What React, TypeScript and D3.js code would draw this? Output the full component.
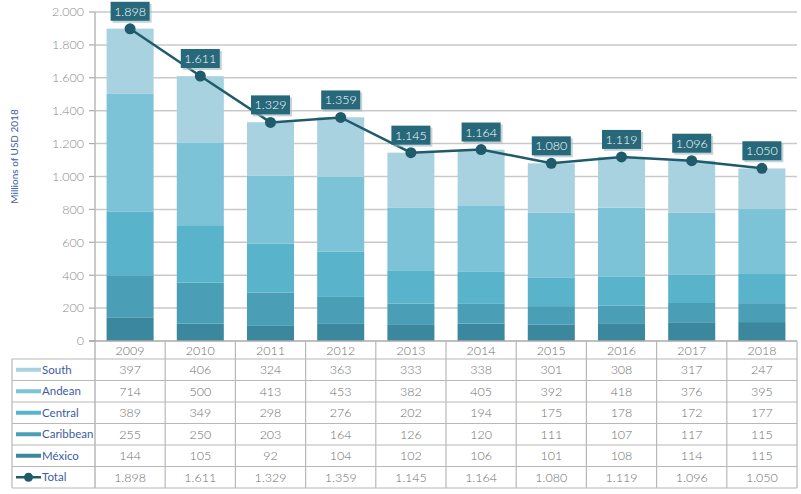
import React from "react";
import * as d3 from "d3";

const years = ["2009", "2010", "2011", "2012", "2013", "2014", "2015", "2016", "2017", "2018"];
const south = [397, 406, 324, 363, 333, 338, 301, 308, 317, 247];
const andean = [714, 500, 413, 453, 382, 405, 392, 418, 376, 395];
const central = [389, 349, 298, 276, 202, 194, 175, 178, 172, 177];
const caribbean = [255, 250, 203, 164, 126, 120, 111, 107, 117, 115];
const mexico = [144, 105, 92, 104, 102, 106, 101, 108, 114, 115];
const total = [1898, 1611, 1329, 1359, 1145, 1164, 1080, 1119, 1096, 1050];
const totalLabels = ["1.898", "1.611", "1.329", "1.359", "1.145", "1.164", "1.080", "1.119", "1.096", "1.050"];
const yTicks = [0, 200, 400, 600, 800, 1000, 1200, 1400, 1600, 1800, 2000];
const yTickLabels = ["0", "200", "400", "600", "800", "1.000", "1.200", "1.400", "1.600", "1.800", "2.000"];

const colors: Record<string, string> = {
  South: "#a9d2e1",
  Andean: "#7cc3d7",
  Central: "#58b3cb",
  Caribbean: "#4a9fb6",
  "México": "#3b879d",
};
const lineColor = "#1f5b6b";
const boxColor = "#27697a";
const font = "Lato, 'Open Sans', sans-serif";

export default function App() {
  const W = 801, H = 494;
  const left = 95, right = 797;
  const top = 12, bottom = 341;
  const x = d3.scaleBand<string>().domain(years).range([left, right]).paddingInner(0.33).paddingOuter(0.165);
  const y = d3.scaleLinear().domain([0, 2000]).range([bottom, top]);
  const colX = d3.scaleBand<string>().domain(years).range([left, right]);

  const rows = years.map((yr, i) => ({
    year: yr,
    "México": mexico[i],
    Caribbean: caribbean[i],
    Central: central[i],
    Andean: andean[i],
    South: south[i],
  }));
  const stackOrder = ["México", "Caribbean", "Central", "Andean", "South"];
  const stacked = d3.stack<any>().keys(stackOrder)(rows);

  const line = d3.line<number>().x((_, i) => (x(years[i]) as number) + x.bandwidth() / 2).y((d) => y(d));

  const tableRows = [
    { name: "South", vals: south.map(String) },
    { name: "Andean", vals: andean.map(String) },
    { name: "Central", vals: central.map(String) },
    { name: "Caribbean", vals: caribbean.map(String) },
    { name: "México", vals: mexico.map(String) },
    { name: "Total", vals: totalLabels },
  ];
  const tableLeft = 12;
  const headerTop = bottom;
  const rowTop = 359;
  const rowH = 21.5;
  const tableBottom = rowTop + rowH * tableRows.length;
  const gridColor = "#c9c9c9";
  const tableLine = "#b8b8b8";

  return (
    <svg width={W} height={H} style={{ position: "absolute", left: 0, top: 0, background: "#fff" }} fontFamily={font}>
      {yTicks.map((t, i) => (
        <g key={"g" + i}>
          {t > 0 && <line x1={left} x2={right} y1={y(t)} y2={y(t)} stroke={gridColor} strokeWidth={1.5} />}
          <line x1={left - 6} x2={left} y1={y(t)} y2={y(t)} stroke="#aaa" strokeWidth={1.2} />
          <text x={left - 11} y={y(t)} dy="0.35em" textAnchor="end" fontSize={12.5} fontWeight={300} fill="#8a8a8a">
            {yTickLabels[i]}
          </text>
        </g>
      ))}
      <text
        transform={`translate(18,${(top + bottom) / 2 - 20}) rotate(-90)`}
        textAnchor="middle"
        fontSize={10}
        fill="#3d5ca3"
      >
        Millions of USD 2018
      </text>

      {stacked.map((s) => (
        <g key={s.key} fill={colors[s.key]}>
          {s.map((d, i) => (
            <rect
              key={i}
              x={x(years[i])}
              width={x.bandwidth()}
              y={y(d[1])}
              height={y(d[0]) - y(d[1])}
            />
          ))}
        </g>
      ))}

      <line x1={left} x2={left} y1={top} y2={tableBottom} stroke={tableLine} strokeWidth={1.5} />
      <line x1={left - 6} x2={right} y1={bottom} y2={bottom} stroke="#aaa" strokeWidth={1.5} />

      <path d={line(total) || ""} fill="none" stroke={lineColor} strokeWidth={2.5} />
      {total.map((v, i) => {
        const cx = (x(years[i]) as number) + x.bandwidth() / 2;
        const cy = y(v);
        const bw = 39, bh = 19;
        const by = cy - 27;
        return (
          <g key={"t" + i}>
            <circle cx={cx} cy={cy} r={5.5} fill={lineColor} />
            <rect x={cx - bw / 2 + 2} y={by + 2} width={bw} height={bh} fill="#9fb7bf" opacity={0.6} />
            <rect x={cx - bw / 2} y={by} width={bw} height={bh} fill={boxColor} />
            <text x={cx} y={by + bh / 2} dy="0.36em" textAnchor="middle" fontSize={12.5} fontWeight={300} fill="#fff">
              {totalLabels[i]}
            </text>
          </g>
        );
      })}

      {years.map((yr, i) => {
        const cx = (colX(yr) as number) + colX.bandwidth() / 2;
        return (
          <text key={"yr" + i} x={cx} y={(headerTop + rowTop) / 2 + 1} dy="0.35em" textAnchor="middle" fontSize={12.5} fontWeight={300} fill="#6f6f6f">
            {yr}
          </text>
        );
      })}
      {years.map((yr, i) => (
        <line
          key={"vl" + i}
          x1={(colX(yr) as number) + colX.bandwidth()}
          x2={(colX(yr) as number) + colX.bandwidth()}
          y1={headerTop}
          y2={tableBottom}
          stroke={tableLine}
          strokeWidth={1.2}
        />
      ))}
      <line x1={tableLeft} x2={tableLeft} y1={rowTop} y2={tableBottom} stroke={tableLine} strokeWidth={1.2} />
      {tableRows.map((r, j) => (
        <line key={"hl" + j} x1={tableLeft} x2={right} y1={rowTop + j * rowH} y2={rowTop + j * rowH} stroke={tableLine} strokeWidth={1.2} />
      ))}
      <line x1={tableLeft} x2={right} y1={tableBottom} y2={tableBottom} stroke={tableLine} strokeWidth={1.2} />
      {tableRows.map((r, j) => {
        const cy = rowTop + j * rowH + rowH / 2;
        return (
          <g key={"row" + j}>
            {r.name === "Total" ? (
              <g>
                <line x1={16} x2={41} y1={cy} y2={cy} stroke={lineColor} strokeWidth={2.5} />
                <circle cx={28.5} cy={cy} r={4.5} fill={lineColor} />
              </g>
            ) : (
              <line x1={16} x2={41} y1={cy} y2={cy} stroke={colors[r.name]} strokeWidth={4} />
            )}
            <text x={42} y={cy} dy="0.35em" fontSize={11.5} fill="#3d5ca3">
              {r.name}
            </text>
            {r.vals.map((v, i) => (
              <text
                key={i}
                x={(colX(years[i]) as number) + colX.bandwidth() / 2}
                y={cy}
                dy="0.35em"
                textAnchor="middle"
                fontSize={12.5}
                fontWeight={300}
                fill="#6f6f6f"
              >
                {v}
              </text>
            ))}
          </g>
        );
      })}
    </svg>
  );
}
